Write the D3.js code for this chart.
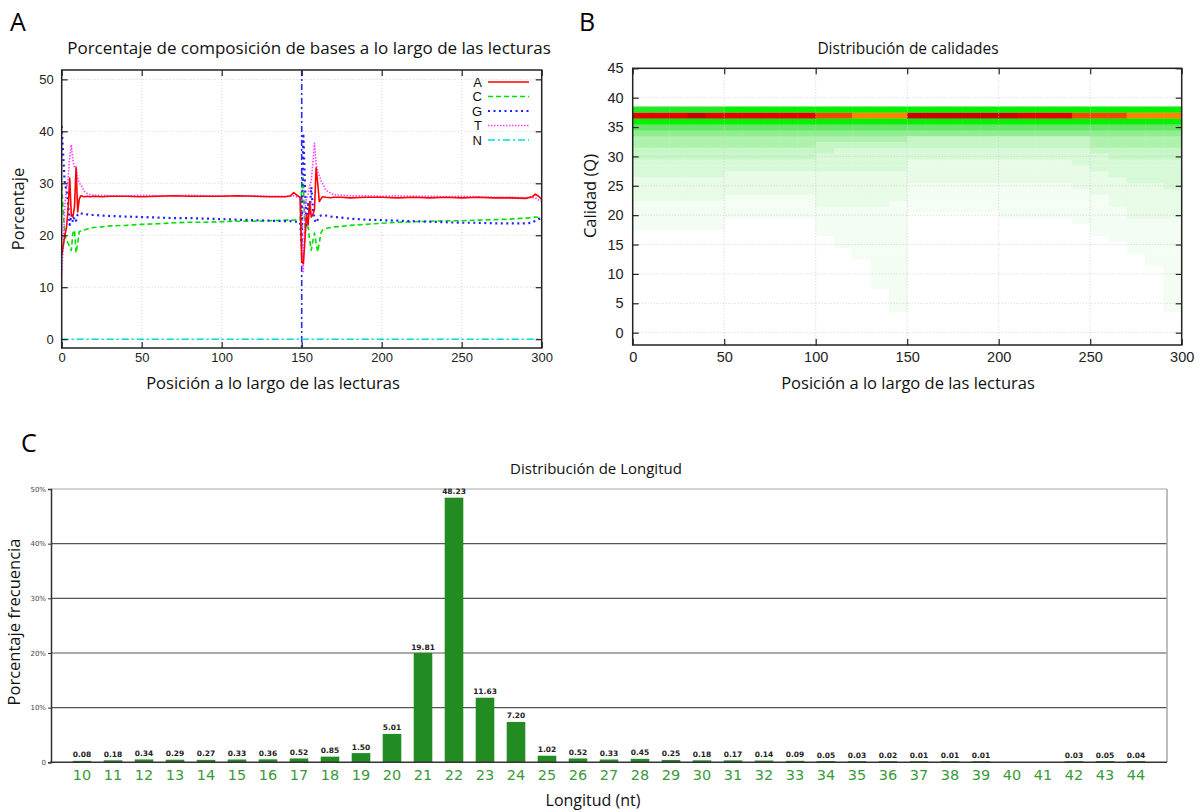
<!DOCTYPE html>
<html><head><meta charset="utf-8">
<script src="https://cdn.jsdelivr.net/npm/d3@7"></script>
<style>body{margin:0;background:#fff}svg{display:block}</style>
</head><body>
<svg id="chart" width="1204" height="812"></svg>
<script>
// ---------------- Panel A data: base composition by read position ----------------
const positions = [0,1,2,3,4,5,6,7,8,9,10,11,12,14,16,18,20,25,30,40,50,60,70,80,90,100,110,120,130,140,143,145,147,149,150,151,152,153,154,155,156,157,158,159,160,161,162,163,165,168,170,175,180,190,200,210,220,230,240,250,260,270,280,290,294,296,298,300];
const baseA = [16.2,18,20,21.5,25,31,24,23.5,25.5,33,24.5,27,27.6,27.4,27.5,27.4,27.5,27.4,27.5,27.5,27.4,27.5,27.6,27.5,27.5,27.5,27.6,27.5,27.4,27.4,27.6,28.2,27.7,27.3,15,14.5,19,24,22,26.5,23.5,24,25,33,30,26.5,27,27.4,27.3,27.2,27.3,27.3,27.2,27.3,27.3,27.2,27.3,27.2,27.3,27.2,27.3,27.2,27.2,27.1,27.4,27.9,27.5,26.9];
const baseC = [29.5,24.5,20,19,18.5,17.8,17.1,20.4,21,16.6,18.5,20.7,20.8,21,21.2,21.4,21.5,21.6,21.8,21.9,22.1,22.2,22.4,22.5,22.5,22.6,22.7,22.7,22.8,22.9,22.9,22.9,23,23,29,31,20.4,21.6,21.6,19,17.1,19,20.4,18.5,16.8,18.5,20.4,21,21.3,21.5,21.6,21.7,21.9,22.1,22.3,22.5,22.6,22.7,22.8,22.8,22.9,23.0,23.1,23.3,23.4,23.5,23.4,23.2];
const baseG = [41,35,29.5,29,26,22,24,22.5,23.5,22.8,24,24.3,24.2,24.1,24,23.9,23.9,23.8,23.7,23.6,23.5,23.4,23.3,23.3,23.2,23.1,23,22.9,22.8,22.7,22.7,22.6,22.6,22.5,18,39.6,30,22,26,24,29.3,25,23,22.4,23,23.6,23.8,23.9,23.8,23.6,23.5,23.4,23.2,23,22.9,22.8,22.7,22.6,22.5,22.4,22.4,22.3,22.3,22.3,22.4,22.8,23.1,23.3];
const baseT = [12.7,18,26,29,31,35,37.4,34.5,33,33.2,31,30,29.7,28.5,28,27.8,27.7,27.7,27.6,27.6,27.7,27.6,27.6,27.7,27.6,27.6,27.5,27.6,27.5,27.5,27.5,27.6,27.4,27.3,20,13,25,27,28,29.5,30.6,34,37.7,33.8,32.2,31.5,30.5,30,28.7,28.1,27.8,27.7,27.6,27.6,27.5,27.6,27.5,27.5,27.4,27.5,27.4,27.3,27.3,27.2,27.3,27.2,26.8,26.5];
const baseN = [0,0,0,0,0,0,0,0,0,0,0,0,0,0,0,0,0,0,0,0,0,0,0,0,0,0,0,0,0,0,0,0,0,0,0,0,0,0,0,0,0,0,0,0,0,0,0,0,0,0,0,0,0,0,0,0,0,0,0,0,0,0,0,0,0,0,0,0];
const baseNames = ["A","C","G","T","N"];
const baseColors = ["#ff0000","#00e000","#2020ff","#ff40ff","#00dcdc"];
const baseDashes = [null,"5,3","2,3.5","1.5,1.5","7,3,2,3"];
const baseWidths = [1.6,1.6,2.2,1.6,1.5];
const ticksAx = [0,50,100,150,200,250,300];
const ticksAy = [0,10,20,30,40,50];

// ---------------- Panel B data: quality heatmap (rows Q=0..38, 30 bins of 10 positions) ----------------
const qualityBins = [0,10,20,30,40,50,60,70,80,90,100,110,120,130,140,150,160,170,180,190,200,210,220,230,240,250,260,270,280,290];
const qualityRows = [
 "000000000000000000000000000000", // Q0
 "000000000000000000000000000000",
 "000000000000000000000000000000",
 "000000000000000000000000000000",
 "000000000000001000000000000001", // Q4
 "000000000000001000000000000001",
 "000000000000001000000000000001",
 "000000000000001000000000000001",
 "000000000000011000000000000001", // Q8
 "000000000000011000000000000001",
 "000000000000011000000000000001",
 "000000000000011000000000000001",
 "000000000000011000000000000011", // Q12
 "000000000000111000000000000011",
 "000000000000111000000000000111",
 "000000000001111000000000000111",
 "000000000001111000000000001111", // Q16
 "000000000011111000000000011111",
 "111110000011111000000000011111",
 "111110000011111000000000111111",
 "111111111111111000001111111222", // Q20
 "111111111111111111111111111222",
 "111111111122221111111111112222",
 "222221111122222111111111112222",
 "222222222222222111111111122222", // Q24
 "222222222222222111111111222223",
 "222222222222222222222222222333",
 "333332222222222222222222223333",
 "333333333333333222222222233333", // Q28
 "333333333333333222222222333333",
 "444444444433333333333333334444",
 "444444444443333333333333344444",
 "555555555544444444444444455555", // Q32
 "555555555555555444444444455555",
 "666666666666666666666666666666",
 "777777777777777777777777777777",
 "999999999999999999999999999999", // Q36
 "rrrdrrrrrreeoooddddddrrreeeooo",
 "888889999999999999999999999999"  // Q38
];
const qualityPalette = {"1":"#f3fdf3","2":"#e7fbe7","3":"#d8f9d8","4":"#c6f6c6","5":"#aef2ae","6":"#90ed90","7":"#60e660","8":"#22ea22","9":"#00f200","r":"#e80000","d":"#cc0000","e":"#f04a00","o":"#ff8400"};
const ticksBx = [0,50,100,150,200,250,300];
const ticksBy = [0,5,10,15,20,25,30,35,40,45];

// ---------------- Panel C data: length distribution ----------------
const lengths = [10,11,12,13,14,15,16,17,18,19,20,21,22,23,24,25,26,27,28,29,30,31,32,33,34,35,36,37,38,39,40,41,42,43,44];
const lengthPct = [0.08,0.18,0.34,0.29,0.27,0.33,0.36,0.52,0.85,1.50,5.01,19.81,48.23,11.63,7.20,1.02,0.52,0.33,0.45,0.25,0.18,0.17,0.14,0.09,0.05,0.03,0.02,0.01,0.01,0.01,null,null,0.03,0.05,0.04];
const ticksCy = [0,10,20,30,40,50];

// ======================================================================
const svg = d3.select("#chart");
const sansT = "'Open Sans', 'Noto Sans', sans-serif";
const sansA = "'Liberation Sans', Arial, sans-serif";

// panel letters
svg.append("text").attr("x",10).attr("y",31).attr("font-family",sansT).attr("font-size",25).text("A");
svg.append("text").attr("x",579).attr("y",31).attr("font-family",sansT).attr("font-size",25).text("B");
svg.append("text").attr("x",21).attr("y",452).attr("font-family",sansT).attr("font-size",25).text("C");

function gnuFrame(g, x, y, xt, yt) {
  const [x0,x1] = x.range(), [y1,y0] = y.range();
  const grid = g.append("g").attr("stroke","#c8c8c8").attr("stroke-width",0.8).attr("stroke-dasharray","1,2");
  xt.forEach(v => { if (v>x.domain()[0] && v<x.domain()[1]) grid.append("line").attr("x1",x(v)).attr("x2",x(v)).attr("y1",y0).attr("y2",y1); });
  yt.forEach(v => grid.append("line").attr("x1",x0).attr("x2",x1).attr("y1",y(v)).attr("y2",y(v)));
}
function gnuAxes(g, x, y, xt, yt, fs, padx, pady) {
  const [x0,x1] = x.range(), [y1,y0] = y.range();
  const st = s => s.call(a => a.select(".domain").remove()).call(a => a.selectAll("line").attr("stroke","#222").attr("stroke-width",1.2));
  g.append("g").attr("transform",`translate(0,${y1})`).call(d3.axisBottom(x).tickValues(xt).tickSize(-6).tickPadding(pady))
    .call(st).call(a => a.selectAll("text").attr("font-family",sansA).attr("font-size",fs).attr("fill","#222"));
  g.append("g").attr("transform",`translate(0,${y0})`).call(d3.axisTop(x).tickValues(xt).tickSize(-6).tickFormat("")).call(st);
  g.append("g").attr("transform",`translate(${x0},0)`).call(d3.axisLeft(y).tickValues(yt).tickSize(-6).tickPadding(padx))
    .call(st).call(a => a.selectAll("text").attr("font-family",sansA).attr("font-size",fs).attr("fill","#222"));
  g.append("g").attr("transform",`translate(${x1},0)`).call(d3.axisRight(y).tickValues(yt).tickSize(-6).tickFormat("")).call(st);
  g.append("rect").attr("x",x0).attr("y",y0).attr("width",x1-x0).attr("height",y1-y0).attr("fill","none").attr("stroke","#222").attr("stroke-width",1.5);
}

// ---------------- Panel A ----------------
{
  const g = svg.append("g");
  const x = d3.scaleLinear().domain([0,300]).range([61.7,541.7]);
  const y = d3.scaleLinear().domain([-1.7,51.8]).range([348,70]);
  gnuFrame(g,x,y,ticksAx,ticksAy);
  g.append("clipPath").attr("id","clipA").append("rect").attr("x",61.7).attr("y",70).attr("width",480).attr("height",278);
  const series = [baseA,baseC,baseG,baseT,baseN];
  const lg = g.append("g").attr("clip-path","url(#clipA)");
  lg.append("line").attr("x1",x(150)).attr("x2",x(150)).attr("y1",y.range()[1]).attr("y2",y.range()[0])
    .attr("stroke","#2a2aff").attr("stroke-width",1.6).attr("stroke-dasharray","6,3,2,3");
  const line = d3.line().x((d,i)=>x(positions[i])).y(d=>y(d));
  [4,1,2,3,0].forEach(k => {
    lg.append("path").datum(series[k]).attr("d",line).attr("fill","none")
      .attr("stroke",baseColors[k]).attr("stroke-width",baseWidths[k])
      .attr("stroke-dasharray",baseDashes[k]).attr("stroke-linejoin","round");
  });
  gnuAxes(g,x,y,ticksAx,ticksAy,13,8,5);
  const leg = g.append("g");
  baseNames.forEach((n,i) => {
    const yy = 82 + i*14.5;
    leg.append("text").attr("x",482).attr("y",yy).attr("dy","0.36em").attr("text-anchor","end")
      .attr("font-family",sansA).attr("font-size",13).attr("fill","#111").text(n);
    leg.append("line").attr("x1",488).attr("x2",529).attr("y1",yy).attr("y2",yy)
      .attr("stroke",baseColors[i]).attr("stroke-width",baseWidths[i]).attr("stroke-dasharray",baseDashes[i]);
  });
  g.append("text").attr("x",309).attr("y",54).attr("text-anchor","middle").attr("font-family",sansT).attr("font-size",17).attr("fill","#111")
    .text("Porcentaje de composición de bases a lo largo de las lecturas");
  g.append("text").attr("x",273).attr("y",389).attr("text-anchor","middle").attr("font-family",sansT).attr("font-size",16.5).attr("fill","#111")
    .text("Posición a lo largo de las lecturas");
  g.append("text").attr("transform","translate(24,209) rotate(-90)").attr("text-anchor","middle").attr("font-family",sansT).attr("font-size",16.5).attr("fill","#111")
    .text("Porcentaje");
}

// ---------------- Panel B ----------------
{
  const g = svg.append("g");
  const x = d3.scaleLinear().domain([0,300]).range([632.7,1181.7]);
  const y = d3.scaleLinear().domain([-2.1,45]).range([345,68.3]);
  const cells = [];
  qualityRows.forEach((row,q) => {
    row.split("").forEach((ch,b) => { if (ch !== "0") cells.push({q, b, ch}); });
  });
  g.append("g").selectAll("rect").data(cells).join("rect")
    .attr("x",d=>x(qualityBins[d.b])).attr("width",d=>x(qualityBins[d.b]+10)-x(qualityBins[d.b])+0.4)
    .attr("y",d=>y(d.q+0.5)).attr("height",d=>y(d.q-0.5)-y(d.q+0.5)+0.3)
    .attr("fill",d=>qualityPalette[d.ch]);
  gnuFrame(g,x,y,ticksBx,ticksBy);
  gnuAxes(g,x,y,ticksBx,ticksBy,14.5,9,7);
  g.append("text").attr("x",908).attr("y",54).attr("text-anchor","middle").attr("font-family",sansT).attr("font-size",15.5).attr("fill","#111")
    .text("Distribución de calidades");
  g.append("text").attr("x",908).attr("y",389).attr("text-anchor","middle").attr("font-family",sansT).attr("font-size",16.5).attr("fill","#111")
    .text("Posición a lo largo de las lecturas");
  g.append("text").attr("transform","translate(596,196) rotate(-90)").attr("text-anchor","middle").attr("font-family",sansT).attr("font-size",16.5).attr("fill","#111")
    .text("Calidad (Q)");
}

// ---------------- Panel C ----------------
{
  const g = svg.append("g");
  const x = d3.scaleBand().domain(lengths).range([51,1167]).paddingInner(0.4).paddingOuter(0.7);
  const y = d3.scaleLinear().domain([0,50]).range([762.3,489]);
  ticksCy.filter(v=>v>0).forEach(v => {
    g.append("line").attr("x1",51).attr("x2",1167).attr("y1",y(v)).attr("y2",y(v))
      .attr("stroke", v===50 ? "#a8a8a8" : "#555").attr("stroke-width",1.2);
  });
  g.append("line").attr("x1",1167).attr("x2",1167).attr("y1",489).attr("y2",762.3).attr("stroke","#a8a8a8").attr("stroke-width",1.5);
  const data = lengths.map((l,i)=>({l, v:lengthPct[i]})).filter(d=>d.v!==null);
  g.append("g").selectAll("rect").data(data).join("rect")
    .attr("x",d=>x(d.l)).attr("width",x.bandwidth())
    .attr("y",d=>y(d.v)-1).attr("height",d=>y(0)-y(d.v)+1)
    .attr("fill","#228b22");
  g.append("g").selectAll("text").data(data).join("text")
    .attr("x",d=>x(d.l)+x.bandwidth()/2).attr("y",d=>y(d.v)-4.5).attr("text-anchor","middle")
    .attr("font-family","'DejaVu Sans', sans-serif").attr("font-weight","bold").attr("font-size",7.5).attr("fill","#222")
    .text(d=>d.v.toFixed(2));
  const ya = g.append("g").attr("transform","translate(51,0)")
    .call(d3.axisLeft(y).tickValues(ticksCy).tickSize(3).tickPadding(2).tickFormat(v=>v===0?"0":v+"%"));
  ya.select(".domain").attr("stroke","#333").attr("stroke-width",1.5);
  ya.selectAll("line").attr("stroke","#333");
  ya.selectAll("text").attr("font-family","'DejaVu Sans', sans-serif").attr("font-size",7).attr("fill","#444");
  g.append("line").attr("x1",50).attr("x2",1167).attr("y1",762.3).attr("y2",762.3).attr("stroke","#333").attr("stroke-width",1.5);
  const xa = g.append("g").attr("transform","translate(0,762.3)")
    .call(d3.axisBottom(x).tickSize(0).tickPadding(7));
  xa.select(".domain").remove();
  xa.selectAll("text").attr("font-family","'DejaVu Sans', sans-serif").attr("font-size",14.5).attr("fill","#3a9a3a");
  g.append("text").attr("x",596).attr("y",474).attr("text-anchor","middle").attr("font-family",sansT).attr("font-size",15).attr("fill","#111")
    .text("Distribución de Longitud");
  g.append("text").attr("x",593).attr("y",806).attr("text-anchor","middle").attr("font-family",sansT).attr("font-size",16).attr("fill","#111")
    .text("Longitud (nt)");
  g.append("text").attr("transform","translate(20,622) rotate(-90)").attr("text-anchor","middle").attr("font-family",sansT).attr("font-size",16.5).attr("fill","#111")
    .text("Porcentaje frecuencia");
}
</script>
</body></html>
